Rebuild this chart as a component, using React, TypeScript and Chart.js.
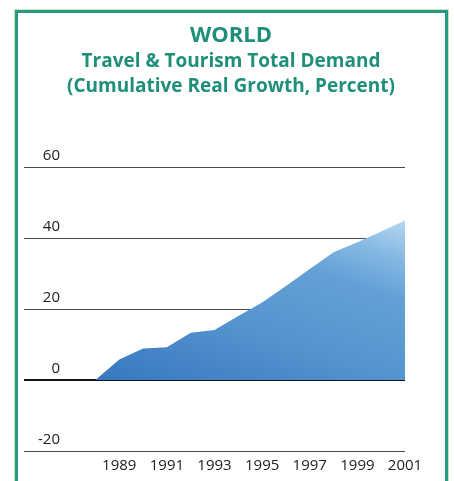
import React, { useEffect, useRef } from "react";
import { Chart, registerables } from "chart.js";

Chart.register(...registerables);

const titleText = "WORLD";
const subtitleLines = ["Travel & Tourism Total Demand", "(Cumulative Real Growth, Percent)"];
const years = [1988, 1989, 1990, 1991, 1992, 1993, 1994, 1995, 1996, 1997, 1998, 1999, 2000, 2001];
const growth = [0, 5.8, 8.9, 9.2, 13.3, 14.1, 18.0, 21.8, 26.5, 31.3, 36.0, 38.8, 41.8, 44.9];
const xMin = 1985;
const xMax = 2001;
const firstYearLabel = 1989;
const yMin = -20;
const yMax = 60;
const yStep = 20;

const TEAL = "#1f8f79";

export default function App() {
  const ref = useRef<HTMLCanvasElement | null>(null);

  useEffect(() => {
    document.body.style.margin = "0";
    document.body.style.overflow = "hidden";
    const canvas = ref.current;
    if (!canvas) return;
    const chart = new Chart(canvas, {
      type: "line",
      data: {
        datasets: [
          {
            data: years.map((y, i) => ({ x: y, y: growth[i] })),
            fill: "origin",
            borderWidth: 0,
            borderColor: "rgba(0,0,0,0)",
            pointRadius: 0,
            tension: 0,
            backgroundColor: (ctx: any) => {
              const c = ctx.chart;
              if (!c.chartArea) return "#4a8bcd";
              const xs = c.scales.x;
              const ys = c.scales.y;
              const x0 = xs.getPixelForValue(years[0]);
              const x1 = xs.getPixelForValue(years[years.length - 1]);
              const y0 = ys.getPixelForValue(0);
              const y1 = ys.getPixelForValue(45);
              const g = c.ctx.createLinearGradient(x0, y0, x0 + (x1 - x0) * 0.265, y0 - (y0 - y1) * 1.49);
              g.addColorStop(0, "#3777bf");
              g.addColorStop(0.4, "#5494cf");
              g.addColorStop(0.7, "#64a0d7");
              g.addColorStop(0.85, "#86b9e3");
              g.addColorStop(1, "#b8d6f0");
              return g;
            },
          },
        ],
      },
      options: {
        animation: false,
        responsive: false,
        maintainAspectRatio: false,
        layout: { padding: { left: 24, right: 49, top: 167, bottom: 0 } },
        plugins: {
          legend: { display: false },
          tooltip: { enabled: false },
        },
        scales: {
          x: {
            type: "linear",
            min: xMin,
            max: xMax,
            grid: { display: false, drawTicks: false },
            border: { display: false },
            ticks: {
              stepSize: 2,
              padding: 6,
              color: "#222",
              font: { family: "Open Sans", size: 15 },
              maxRotation: 0,
              autoSkip: false,
              callback: (v: any) => (Number(v) >= firstYearLabel ? String(v) : ""),
            },
          },
          y: {
            min: yMin,
            max: yMax,
            afterFit: (scale: any) => {
              scale.width = 0;
            },
            grid: {
              drawTicks: false,
              color: (ctx: any) => (ctx.tick && ctx.tick.value === 0 ? "#111" : "#4a4a4a"),
              lineWidth: (ctx: any) => (ctx.tick && ctx.tick.value === 0 ? 2 : 1),
            },
            border: { display: false },
            ticks: {
              stepSize: yStep,
              mirror: true,
              crossAlign: "far",
              padding: 14,
              labelOffset: -11,
              color: "#222",
              font: { family: "Open Sans", size: 15 },
            },
          },
        },
      },
    });
    return () => chart.destroy();
  }, []);

  const lineStyle = (top: number, size: number, lh: number): React.CSSProperties => ({
    position: "absolute",
    left: 0,
    width: 462,
    top,
    textAlign: "center",
    fontFamily: "'Open Sans', sans-serif",
    fontWeight: 700,
    fontSize: size,
    lineHeight: lh + "px",
    color: TEAL,
    whiteSpace: "nowrap",
  });

  return (
    <div style={{ position: "relative", width: 454, height: 481, overflow: "hidden", background: "#fff" }}>
      <div
        style={{
          position: "absolute",
          left: 15,
          top: 10,
          width: 427,
          height: 520,
          border: "3px solid #2a9983",
          boxShadow: "0 0 0 1px #cfe3b8",
        }}
      />
      <canvas ref={ref} width={454} height={481} style={{ position: "absolute", left: 0, top: 0, width: 454, height: 481 }} />
      <div style={lineStyle(19, 22, 28)}>{titleText}</div>
      <div style={lineStyle(47, 19, 26)}>{subtitleLines[0]}</div>
      <div style={lineStyle(72, 19, 26)}>{subtitleLines[1]}</div>
    </div>
  );
}
